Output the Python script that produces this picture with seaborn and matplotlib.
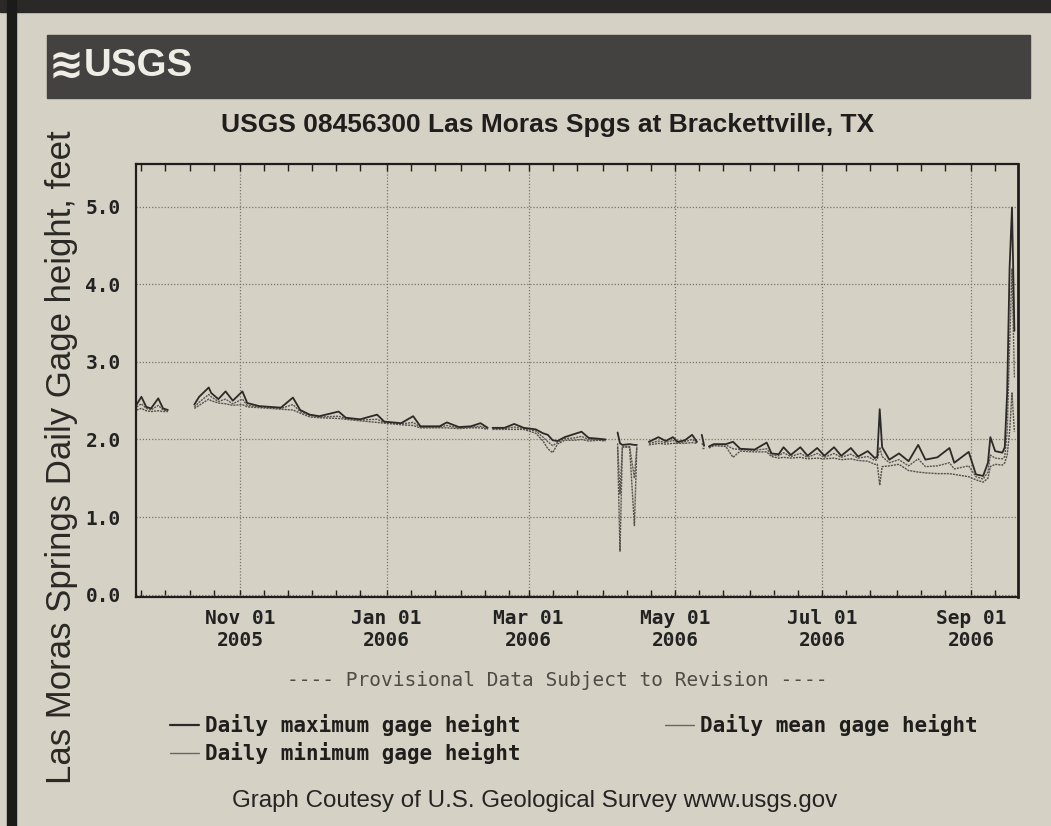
"""USGS gage height chart - Las Moras Springs at Brackettville, TX"""
import matplotlib
matplotlib.use("Agg")
import matplotlib.pyplot as plt
import matplotlib.dates as mdates
import seaborn as sns
import pandas as pd
from matplotlib.lines import Line2D
from matplotlib.patches import Rectangle
from matplotlib import font_manager

# Daily values (None = no record)
dates = [
    "2005-09-19", "2005-09-21", "2005-09-23", "2005-09-25", "2005-09-28", "2005-09-30", "2005-10-02",
    "2005-10-07",
    "2005-10-13", "2005-10-15", "2005-10-19", "2005-10-20", "2005-10-23", "2005-10-26", "2005-10-29",
    "2005-11-02", "2005-11-04", "2005-11-09", "2005-11-18", "2005-11-23", "2005-11-26", "2005-11-30",
    "2005-12-04", "2005-12-12", "2005-12-15", "2005-12-21", "2005-12-28", "2005-12-31",
    "2006-01-07", "2006-01-12", "2006-01-15", "2006-01-23", "2006-01-26", "2006-01-31",
    "2006-02-05", "2006-02-09", "2006-02-12",
    "2006-02-13",
    "2006-02-14", "2006-02-19", "2006-02-23", "2006-02-27",
    "2006-03-04", "2006-03-07", "2006-03-09", "2006-03-11", "2006-03-13", "2006-03-16", "2006-03-20",
    "2006-03-23", "2006-03-26", "2006-03-30", "2006-04-02",
    "2006-04-04",
    "2006-04-07", "2006-04-08", "2006-04-09", "2006-04-12", "2006-04-14", "2006-04-15",
    "2006-04-17",
    "2006-04-20", "2006-04-24", "2006-04-27", "2006-04-30", "2006-05-02", "2006-05-05", "2006-05-08",
    "2006-05-10",
    "2006-05-11",
    "2006-05-12", "2006-05-13",
    "2006-05-14",
    "2006-05-15", "2006-05-17", "2006-05-22", "2006-05-25", "2006-05-28",
    "2006-06-03", "2006-06-08", "2006-06-10", "2006-06-13", "2006-06-15", "2006-06-18", "2006-06-22",
    "2006-06-25", "2006-06-29",
    "2006-07-02", "2006-07-06", "2006-07-09", "2006-07-13", "2006-07-16", "2006-07-20", "2006-07-23",
    "2006-07-24", "2006-07-25", "2006-07-26", "2006-07-29",
    "2006-08-02", "2006-08-06", "2006-08-10", "2006-08-13", "2006-08-18", "2006-08-23", "2006-08-25",
    "2006-08-31",
    "2006-09-03", "2006-09-06", "2006-09-08", "2006-09-09", "2006-09-11", "2006-09-14", "2006-09-15",
    "2006-09-16", "2006-09-17", "2006-09-18", "2006-09-19",
]
daily_max = [
    2.45, 2.55, 2.42, 2.40, 2.53, 2.40, 2.38,
    None,
    2.45, 2.55, 2.67, 2.60, 2.52, 2.62, 2.50,
    2.62, 2.47, 2.43, 2.41, 2.54, 2.38, 2.32,
    2.30, 2.36, 2.28, 2.26, 2.32, 2.23,
    2.21, 2.30, 2.17, 2.17, 2.22, 2.16,
    2.17, 2.21, 2.15,
    None,
    2.15, 2.15, 2.20, 2.15,
    2.13, 2.08, 2.06, 1.99, 1.98, 2.03, 2.07,
    2.10, 2.02, 2.01, 2.00,
    None,
    2.09, 1.95, 1.93, 1.94, 1.93, 1.93,
    None,
    1.97, 2.03, 1.98, 2.03, 1.97, 1.99, 2.06,
    1.97,
    None,
    2.06, 1.92,
    None,
    1.91, 1.94, 1.94, 1.97, 1.88,
    1.87, 1.96, 1.82, 1.81, 1.90, 1.80, 1.90,
    1.79, 1.89,
    1.79, 1.90, 1.79, 1.89, 1.78, 1.85, 1.76,
    1.78, 2.39, 1.90, 1.74,
    1.82, 1.72, 1.93, 1.74, 1.77, 1.89, 1.70,
    1.84,
    1.55, 1.53, 1.70, 2.03, 1.85, 1.83, 1.90,
    2.61, 4.21, 4.99, 3.40,
]
daily_mean = [
    2.42, 2.46, 2.40, 2.38, 2.44, 2.38, 2.37,
    None,
    2.42, 2.48, 2.58, 2.55, 2.49, 2.52, 2.46,
    2.52, 2.44, 2.42, 2.40, 2.45, 2.36, 2.31,
    2.29, 2.30, 2.27, 2.25, 2.26, 2.22,
    2.20, 2.22, 2.16, 2.16, 2.18, 2.15,
    2.16, 2.17, 2.14,
    None,
    2.14, 2.14, 2.16, 2.14,
    2.11, 2.03, 1.97, 1.92, 1.96, 2.01, 2.02,
    2.04, 2.00, 2.00, 1.99,
    None,
    1.95, 1.30, 1.91, 1.91, 1.50, 1.91,
    None,
    1.95, 1.98, 1.96, 1.99, 1.96, 1.97, 2.00,
    1.96,
    None,
    1.95, 1.91,
    None,
    1.90, 1.93, 1.93, 1.88, 1.87,
    1.86, 1.88, 1.80, 1.79, 1.83, 1.78, 1.82,
    1.77, 1.82,
    1.77, 1.82, 1.77, 1.81, 1.76, 1.78, 1.73,
    1.74, 1.90, 1.78, 1.70,
    1.74, 1.66, 1.75, 1.65, 1.66, 1.70, 1.62,
    1.66,
    1.52, 1.49, 1.58, 1.80, 1.76, 1.75, 1.78,
    2.10, 3.20, 4.20, 2.80,
]
daily_min = [
    2.38, 2.40, 2.37, 2.36, 2.37, 2.36, 2.36,
    None,
    2.40, 2.44, 2.52, 2.50, 2.47, 2.46, 2.44,
    2.45, 2.42, 2.41, 2.39, 2.38, 2.34, 2.29,
    2.28, 2.27, 2.26, 2.24, 2.22, 2.21,
    2.19, 2.18, 2.15, 2.15, 2.15, 2.14,
    2.15, 2.15, 2.13,
    None,
    2.13, 2.13, 2.13, 2.13,
    2.08, 1.98, 1.88, 1.83, 1.94, 1.99, 1.99,
    2.00, 1.98, 1.99, 1.98,
    None,
    1.90, 0.56, 1.90, 1.90, 0.89, 1.90,
    None,
    1.93, 1.95, 1.94, 1.95, 1.95, 1.95, 1.96,
    1.95,
    None,
    1.89, 1.89,
    None,
    1.89, 1.92, 1.91, 1.77, 1.85,
    1.84, 1.84, 1.78, 1.76, 1.77, 1.76, 1.77,
    1.75, 1.76,
    1.75, 1.76, 1.74, 1.75, 1.73, 1.72, 1.68,
    1.68, 1.41, 1.65, 1.66,
    1.68, 1.60, 1.58, 1.57, 1.56, 1.56, 1.55,
    1.52,
    1.48, 1.45, 1.50, 1.65, 1.68, 1.67, 1.70,
    1.80, 2.10, 2.60, 2.10,
]

yticks = [0.0, 1.0, 2.0, 3.0, 4.0, 5.0]

title = "USGS 08456300 Las Moras Spgs at Brackettville, TX"
ylabel = "Las Moras Springs Daily Gage height, feet"
provisional = "---- Provisional Data Subject to Revision ----"
footer = "Graph Coutesy of U.S. Geological Survey www.usgs.gov"
legend_labels = ["Daily maximum gage height", "Daily minimum gage height", "Daily mean gage height"]

# Build long table, split into unbroken segments at missing days
df = pd.DataFrame({"date": pd.to_datetime(dates), "max": daily_max,
                   "mean": daily_mean, "min": daily_min})
df["seg"] = df["max"].isna().cumsum()
df = df.dropna().reset_index(drop=True)

PAPER = "#d6d1c5"
INK = "#1f1e1c"

sns.set_theme(style="white")
plt.rcParams["font.family"] = ["DejaVu Sans Mono"]
plt.rcParams["font.weight"] = "bold"

names = {f.name for f in font_manager.fontManager.ttflist}
has_narrow = "Liberation Sans Narrow" in names
narrow = ["Liberation Sans Narrow", "Liberation Sans"] if has_narrow else ["Liberation Sans"]
nscale = 1.0 if has_narrow else 0.84

W, H = 1051, 826
fx = lambda px: px / W
fy = lambda py: 1 - py / H

fig = plt.figure(figsize=(10.51, 8.26), dpi=100, facecolor=PAPER)
ax = fig.add_axes([fx(136), fy(597), fx(1018) - fx(136), fy(164) - fy(597)])
ax.set_facecolor(PAPER)

# Page decorations: scan border and USGS banner
fig.add_artist(Rectangle((0, fy(12)), 1, 12 / H, transform=fig.transFigure, color="#2a2927", zorder=0))
fig.add_artist(Rectangle((fx(7), 0), 9 / W, 1, transform=fig.transFigure, color="#1b1b1a", zorder=0))
fig.add_artist(Rectangle((fx(47), fy(98)), (1030 - 47) / W, 63 / H, transform=fig.transFigure,
                         color="#444240", zorder=0))
fig.text(fx(49), fy(66), "\u224b", color="#f0ede6", fontsize=30, family=["DejaVu Sans"],
         fontweight="bold", va="center", ha="left")
fig.text(fx(84), fy(66), "USGS", color="#f0ede6", fontsize=33 * nscale, family=narrow,
         fontweight="bold", va="center", ha="left")

# Data lines
sns.lineplot(data=df, x="date", y="mean", units="seg", estimator=None, ax=ax,
             color="#5c5851", lw=1.0, linestyle=(0, (1.5, 0.7)))
sns.lineplot(data=df, x="date", y="min", units="seg", estimator=None, ax=ax,
             color="#55514b", lw=1.0, linestyle=(0, (1.5, 0.7)))
sns.lineplot(data=df, x="date", y="max", units="seg", estimator=None, ax=ax,
             color="#2c2a27", lw=1.3)

ax.set_xlim(pd.Timestamp("2005-09-18 18:00"), pd.Timestamp("2006-09-20 12:00"))
ax.set_ylim(-0.03, 5.55)
ax.set_xlabel("")
ax.set_ylabel("")

ax.xaxis.set_major_locator(mdates.MonthLocator(bymonth=[1, 3, 5, 7, 9, 11], bymonthday=1))
ax.xaxis.set_major_formatter(mdates.DateFormatter("%b %d\n%Y"))
ax.xaxis.set_minor_locator(mdates.DayLocator(bymonthday=[1, 11, 21]))
ax.set_yticks(yticks)
ax.yaxis.set_major_formatter(matplotlib.ticker.FormatStrFormatter("%.1f"))

ax.tick_params(axis="x", which="both", direction="in", top=True, bottom=True,
               length=5, width=1, color=INK, labelsize=14, labelcolor="#222", pad=9)
ax.tick_params(axis="y", which="both", length=0, labelsize=14, labelcolor="#222", pad=11)

ax.grid(True, which="major", axis="both", color="#7b766d", lw=0.9, linestyle=(0, (1, 1.5)))
for side, lw in [("left", 1.6), ("bottom", 1.6), ("top", 1.6), ("right", 2.0)]:
    ax.spines[side].set_visible(True)
    ax.spines[side].set_color(INK)
    ax.spines[side].set_linewidth(lw)

# Titles and notes
fig.text(fx(548), fy(125), title, ha="center", va="center", fontsize=22.6 * nscale,
         family=narrow, fontweight="bold", color=INK)
fig.text(fx(62), fy(457), ylabel, ha="center", va="center", rotation=90, fontsize=25,
         family=["Liberation Sans"], fontweight="normal", color="#2a2926")
fig.text(fx(557), fy(680), provisional, ha="center", va="center", fontsize=14,
         fontweight="normal", color="#4f4b45")

handles = [
    Line2D([], [], color="#2c2a27", lw=1.6),
    Line2D([], [], color="#6a665f", lw=1.0),
    Line2D([], [], color="#6a665f", lw=1.0),
]
fig.legend(handles, legend_labels, loc="upper left", bbox_to_anchor=(fx(170), fy(714)),
           ncol=2, frameon=False, prop={"family": "DejaVu Sans Mono", "weight": "bold", "size": 15},
           handlelength=1.4, handletextpad=0.3, columnspacing=6.9, labelspacing=0.3,
           borderpad=0, borderaxespad=0, labelcolor="#1f1e1c")

fig.text(fx(535), fy(801), footer, ha="center", va="center", fontsize=20.7 * nscale,
         family=narrow, fontweight="normal", color="#252422")

fig.savefig("out.png", dpi=100, facecolor=PAPER)
